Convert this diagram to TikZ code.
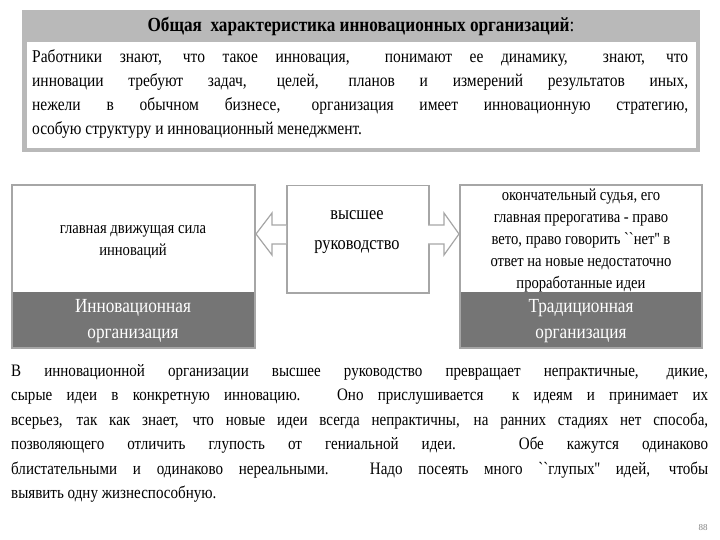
\documentclass[tikz,border=0pt]{standalone}
\usepackage{fontspec}
\setmainfont{Liberation Serif}
\newfontfamily\cond[FakeStretch=0.86]{Liberation Serif}
\begin{document}
\begin{tikzpicture}[x=1pt,y=-1pt,
  frame/.style={draw=gray!70,line width=1.5pt},
  txt/.style={inner sep=0pt,font=\cond\fontsize{18}{24}\selectfont}]
\useasboundingbox (0,0) rectangle (720,540);
% top box
\fill[gray!55] (22,10) rectangle (700,152);
\node[fill=white,minimum width=669pt,minimum height=106pt,anchor=north west,inner sep=0pt] (inner) at (27,42) {};
\node[inner sep=0pt,font=\cond\bfseries\fontsize{20}{22}\selectfont] (title) at (361,26) {Общая\ \ характеристика инновационных организаций\textmd{:}};
\node[txt,text width=656pt,align=justify,anchor=north west] (top) at (32,49)
{Работники знают, что такое инновация,\ \ понимают ее динамику,\ \ знают, что\linebreak инновации требуют задач, целей, планов и измерений результатов иных,\linebreak нежели в обычном бизнесе, организация имеет инновационную стратегию,\linebreak особую структуру и инновационный менеджмент.};
% boxes
\fill[gray!65!black!80] (12,292) rectangle (255,348);
\fill[gray!65!black!80] (460,292) rectangle (702,348);
\draw[frame] (12,185) rectangle (255,348);
\draw[frame] (460,185) rectangle (702,348);
\node[frame,minimum width=142pt,minimum height=107pt,anchor=north west,inner sep=0pt] (mid) at (286,185) {};
\node[txt,font=\cond\fontsize{19}{30}\selectfont,align=center] (midt) at (357,232) {высшее\\руководство};
\node[txt,font=\cond\fontsize{17}{22}\selectfont,align=center] (lt) at (133,242) {главная движущая сила\\инноваций};
\node[txt,font=\cond\fontsize{17}{22}\selectfont,align=center] (rt) at (581,240) {окончательный судья, его\\главная прерогатива - право\\вето, право говорить ``нет'' в\\ответ на новые недостаточно\\проработанные идеи};
\node[txt,font=\cond\fontsize{20}{26}\selectfont,align=center,text=white] (lb) at (133,321) {Инновационная\\организация};
\node[txt,font=\cond\fontsize{20}{26}\selectfont,align=center,text=white] (rb) at (581,321) {Традиционная\\организация};
% arrows
\draw[frame,fill=white,line width=1.2pt] (286,225) -- (272,225) -- (272,213) -- (256,234) -- (272,255) -- (272,244) -- (286,244);
\draw[frame,fill=white,line width=1.2pt] (428,225) -- (444,225) -- (444,213) -- (459,234) -- (444,255) -- (444,244) -- (428,244);
% bottom text
\node[txt,font=\cond\fontsize{17.5}{24.5}\selectfont,text width=697pt,align=justify,anchor=north west] (bot) at (11,364)
{В инновационной организации высшее руководство превращает непрактичные, дикие,\linebreak сырые идеи в конкретную инновацию. Оно прислушивается\ \ к идеям и принимает их\linebreak всерьез, так как знает, что новые идеи всегда непрактичны, на ранних стадиях нет способа,\linebreak позволяющего отличить глупость от гениальной идеи. Обе кажутся одинаково\linebreak блистательными и одинаково нереальными. Надо посеять много ``глупых'' идей, чтобы\linebreak выявить одну жизнеспособную.};
\node[inner sep=0pt,font=\fontsize{9}{10}\selectfont,text=gray] (pg) at (703,528) {88};
\end{tikzpicture}
\end{document}
